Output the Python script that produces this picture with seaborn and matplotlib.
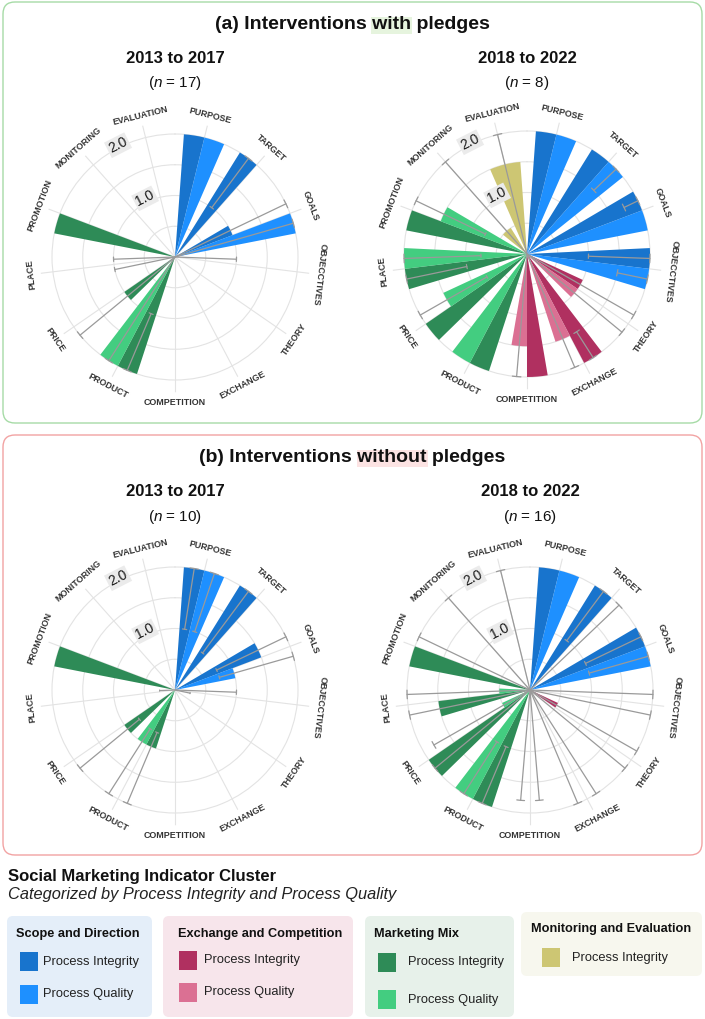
import numpy as np
import matplotlib.pyplot as plt
import seaborn as sns
from matplotlib.patches import FancyBboxPatch, Rectangle

sns.set_theme(style='white')
plt.rcParams['font.family'] = ['Liberation Sans', 'DejaVu Sans']
plt.rcParams['mathtext.fontset'] = 'custom'
plt.rcParams['mathtext.it'] = 'Liberation Sans:italic'
plt.rcParams['mathtext.rm'] = 'Liberation Sans'

# categories, clockwise from the top
categories = ['PURPOSE', 'TARGET', 'GOALS', 'OBJECCTIVES', 'THEORY', 'EXCHANGE', 'COMPETITION',
              'PRODUCT', 'PRICE', 'PLACE', 'PROMOTION', 'MONITORING', 'EVALUATION']
cluster = ['scope'] * 4 + ['exchange'] * 3 + ['mix'] * 4 + ['me'] * 2

# (a) with pledges, 2013 to 2017
a1_int = [2.0, 2.0, 1.0, 0, 0, 0, 0, 2.0, 1.0, 0, 2.0, 0, 0]
a1_int_lo = [None, 1.0, 0, 0, None, None, None, 1.0, 0, 0, None, None, None]
a1_int_hi = [None, 2.0, 2.0, 1.0, None, None, None, 2.0, 2.0, 1.0, None, None, None]
a1_q = [2.0, 0, 2.0, 0, 0, 0, 0, 2.0, 0, 0, 0]
a1_q_lo = [None, None, 0, None, None, None, None, 0, None, 0, None]
a1_q_hi = [None, None, 2.0, None, None, None, None, 2.0, None, 1.0, None]

# (a) with pledges, 2018 to 2022
a2_int = [2.0, 2.0, 2.0, 2.0, 1.0, 2.0, 2.0, 2.0, 2.0, 2.0, 2.0, 0.5, 1.5]
a2_int_lo = [None, None, 1.75, 1.0, 0, 1.5, None, None, None, 1.0, None, 0, 0]
a2_int_hi = [None, None, 2.0, 2.0, 2.0, 2.0, None, None, None, 2.0, None, 2.0, 2.0]
a2_q = [2.0, 2.0, 2.0, 2.0, 1.0, 1.5, 1.5, 2.0, 1.5, 2.0, 1.5]
a2_q_lo = [None, 1.5, None, 1.5, 0, 0, 0, None, 0.75, 0.75, 0.75]
a2_q_hi = [None, 2.0, None, 2.0, 2.0, 2.0, 2.0, None, 2.0, 2.0, 2.0]

# (b) without pledges, 2013 to 2017
b1_int = [2.0, 2.0, 1.5, 0, 0, 0, 0, 1.0, 1.0, 0, 2.0, 0, 0]
b1_int_lo = [1.0, 0.75, 0.75, 0, None, None, None, 0.75, 0.75, None, None, None, None]
b1_int_hi = [2.0, 2.0, 2.0, 1.0, None, None, None, 2.0, 2.0, None, None, None, None]
b1_q = [2.0, 0, 1.0, 0, 0, 0, 0, 1.0, 0, 0, 0]
b1_q_lo = [1.0, None, 0.75, 0, None, None, None, 0.75, None, 0, None]
b1_q_hi = [2.0, None, 2.0, 0.25, None, None, None, 2.0, None, 0.25, None]

# (b) without pledges, 2018 to 2022
b2_int = [2.0, 2.0, 2.0, 0, 0.5, 0, 0, 2.0, 2.0, 1.5, 2.0, 0, 0]
b2_int_lo = [None, 1.0, 1.0, 0, 0, 0, 0, 1.0, 0, 0, None, 0, 0]
b2_int_hi = [None, 2.0, 2.0, 2.0, 2.0, 2.0, 1.8, 2.0, 2.0, 2.0, None, 2.0, 2.0]
b2_q = [2.0, 0, 2.0, 0, 0, 0, 0, 2.0, 0.5, 0.5, 0]
b2_q_lo = [None, 0, 1.0, 0, 0, 0, 0, 1.0, 0, 0, 0]
b2_q_hi = [None, 2.0, 2.0, 2.0, 2.0, 2.0, 1.8, 2.0, 1.8, 2.0, 2.0]

periods = ['2013 to 2017', '2018 to 2022']
n_a = [17, 8]
n_b = [10, 16]

col_int = {'scope': '#1874CD', 'exchange': '#B03060', 'mix': '#2E8B57', 'me': '#CDC673'}
col_q = {'scope': '#1E90FF', 'exchange': '#DB7093', 'mix': '#43CD80'}

W, H = 705, 1019
fig = plt.figure(figsize=(W / 100, H / 100), dpi=100)
fig.patch.set_facecolor('white')

bg = fig.add_axes([0, 0, 1, 1])
bg.set_xlim(0, W)
bg.set_ylim(H, 0)
bg.axis('off')

UNIT = 61.5          # pixels per 1.0 on the radial axis
RMAX = 2.2
step = 2 * np.pi / 13
bw = 0.35 * step
theta = (np.arange(13) + 0.5) * step
err_col = '#9A9A9A'


def errbar(ax, t, lo, hi):
    if lo is None or hi is None:
        return
    ax.plot([t, t], [lo, hi], color=err_col, lw=0.9, zorder=4)
    for r in (lo, hi):
        if r > 0:
            tt = np.linspace(t - 0.035, t + 0.035, 6)
            ax.plot(tt, [r] * 6, color=err_col, lw=0.9, zorder=4)


def polar_panel(cx, cy, iv, ilo, ihi, qv, qlo, qhi):
    rp = RMAX * UNIT
    ax = fig.add_axes([(cx - rp) / W, (H - cy - rp) / H, 2 * rp / W, 2 * rp / H], projection='polar')
    ax.set_facecolor('none')
    ax.set_theta_zero_location('N')
    ax.set_theta_direction(-1)
    ax.set_ylim(0, RMAX)
    ax.set_xticks(theta)
    ax.set_xticklabels([])
    ax.set_yticks([0.5, 1.0, 1.5, 2.0])
    ax.set_yticklabels([])
    ax.grid(True, color='#E3E3E3', lw=0.8)
    ax.tick_params(length=0)
    ax.spines['polar'].set_visible(False)

    for k in range(13):
        g = cluster[k]
        if g == 'me':
            ax.bar(theta[k], iv[k], width=2 * bw, color=col_int[g], zorder=2, lw=0)
            errbar(ax, theta[k], ilo[k], ihi[k])
        else:
            ax.bar(theta[k] - bw, iv[k], width=bw, align='edge', color=col_int[g], zorder=2, lw=0)
            ax.bar(theta[k], qv[k], width=bw, align='edge', color=col_q[g], zorder=2, lw=0)
            errbar(ax, theta[k] - bw / 2, ilo[k], ihi[k])
            errbar(ax, theta[k] + bw / 2, qlo[k], qhi[k])

    for k, cat in enumerate(categories):
        d = np.degrees(theta[k])
        rot = 180 - d if 100 < d < 260 else -d
        ax.text(theta[k], 2.36, cat, rotation=rot, rotation_mode='anchor', ha='center', va='center',
                fontsize=6.4, fontweight='bold', color='#333333', clip_on=False)

    for r, lab in [(1.07, '1.0'), (2.04, '2.0')]:
        ax.text(np.deg2rad(333), r, lab, rotation=27, rotation_mode='anchor', ha='center', va='center',
                fontsize=10, color='#1a1a1a', zorder=6,
                bbox=dict(boxstyle='square,pad=0.12', fc='#EBEBEB', ec='none'))
    return ax


def headline(y, pre, word, post, hl):
    kw = dict(fontsize=14, fontweight='bold', color='#111111')
    t = bg.text(W / 2, y, pre + word + post, ha='center', va='center', zorder=3, **kw)
    fig.canvas.draw()
    rend = fig.canvas.get_renderer()
    bb = t.get_window_extent(rend)
    tmp1 = bg.text(0, 0, pre + word, **kw)
    tmp2 = bg.text(0, 0, word, **kw)
    w1 = tmp1.get_window_extent(rend).width
    w2 = tmp2.get_window_extent(rend).width
    tmp1.remove()
    tmp2.remove()
    x_end = bb.x0 + w1
    bg.add_patch(Rectangle((x_end - w2 - 1, H - bb.y1 + 1), w2 + 2, bb.height, fc=hl, ec='none', zorder=2))


# outer frames
bg.add_patch(FancyBboxPatch((3, 2), 699, 421, boxstyle='round,pad=0,rounding_size=12',
                            fc='none', ec='#A6DBA6', lw=1.0))
bg.add_patch(FancyBboxPatch((3, 435), 699, 420, boxstyle='round,pad=0,rounding_size=12',
                            fc='none', ec='#F2A3A3', lw=1.0))

headline(24, '(a) Interventions ', 'with', ' pledges', '#E6F4DE')
headline(457, '(b) Interventions ', 'without', ' pledges', '#FCE3E3')

centers = [(175, 257), (527, 254), (175, 690), (530, 690)]
sub_y = [(58, 83), (58, 83), (492, 517), (492, 517)]
ns = n_a + n_b
data = [(a1_int, a1_int_lo, a1_int_hi, a1_q, a1_q_lo, a1_q_hi),
        (a2_int, a2_int_lo, a2_int_hi, a2_q, a2_q_lo, a2_q_hi),
        (b1_int, b1_int_lo, b1_int_hi, b1_q, b1_q_lo, b1_q_hi),
        (b2_int, b2_int_lo, b2_int_hi, b2_q, b2_q_lo, b2_q_hi)]

for i, (c, d) in enumerate(zip(centers, data)):
    polar_panel(c[0], c[1], *d)
    bg.text(c[0], sub_y[i][0], periods[i % 2], ha='center', va='center', fontsize=12,
            fontweight='bold', color='#111111')
    bg.text(c[0], sub_y[i][1], r'($\mathit{n}$ = %d)' % ns[i], ha='center', va='center',
            fontsize=11, color='#111111')

# legend
bg.text(8, 876, 'Social Marketing Indicator Cluster', fontsize=12, fontweight='bold', va='center',
        color='#111111')
bg.text(8, 895, 'Categorized by Process Integrity and Process Quality', fontsize=11.8, style='italic',
        va='center', color='#222222')

boxes = [
    ((7, 916, 145, 101), '#E4EEF9', 'Scope and Direction', 16, 'scope'),
    ((163, 916, 190, 101), '#F7E5EB', 'Exchange and Competition', 178, 'exchange'),
    ((365, 916, 149, 101), '#E7F1EA', 'Marketing Mix', 374, 'mix'),
    ((521, 912, 181, 64), '#F7F7EE', 'Monitoring and Evaluation', 531, 'me'),
]
sw_pos = {'scope': (20, [952, 985], 43), 'exchange': (179, [951, 983], 204),
          'mix': (378, [953, 990], 408), 'me': (542, [948], 572)}

for (x, y, w, h), fc, head, hx, g in boxes:
    bg.add_patch(FancyBboxPatch((x, y), w, h, boxstyle='round,pad=0,rounding_size=6', fc=fc, ec='none'))
    bg.text(hx, y + 18 if g != 'me' else y + 17, head, fontsize=9.2, fontweight='bold', va='center',
            color='#111111')
    sx, sys_, tx = sw_pos[g]
    labs = ['Process Integrity', 'Process Quality']
    cols = [col_int[g], col_q.get(g)]
    for j, sy in enumerate(sys_):
        bg.add_patch(Rectangle((sx, sy), 18, 19, fc=cols[j], ec='none'))
        bg.text(tx, sy + 9.5, labs[j], fontsize=9.3, va='center', color='#222222')

fig.savefig('out.png', dpi=100)
